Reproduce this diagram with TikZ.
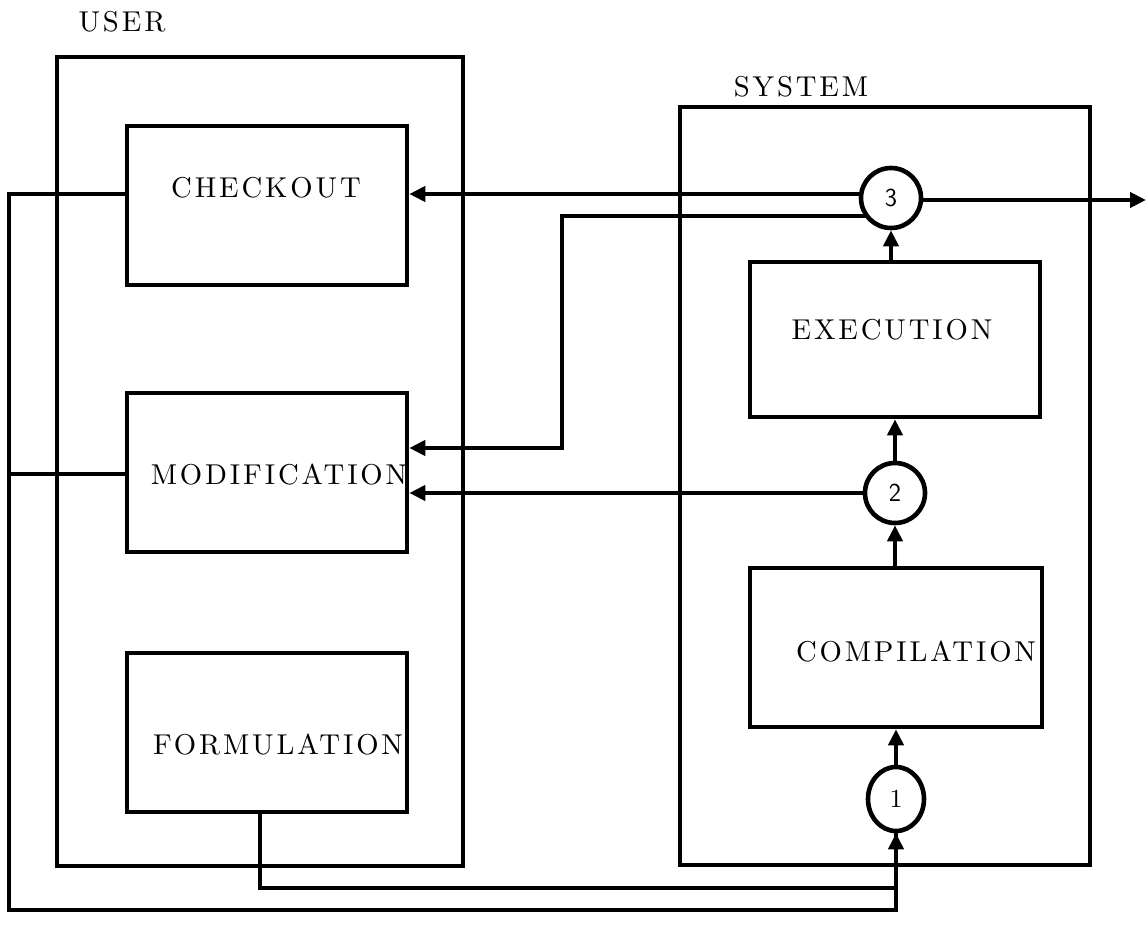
\documentclass[tikz,border=0pt]{standalone}
\usepackage{fontspec}
\usetikzlibrary{arrows.meta,shapes.geometric,calc}
\newfontfamily\labfam{lmroman10-regular}[Extension=.otf,LetterSpace=10]
\newcommand\labfont{\labfam\fontsize{28.7}{31}\selectfont}
\begin{document}
\begin{tikzpicture}[x=1pt,y=-1pt,
  box/.style={draw,line width=4.6pt,inner sep=0pt},
  lab/.style={font=\labfont,inner sep=0pt},
  conn/.style={line width=4.6pt},
  arr/.style={conn,-{Triangle[length=16pt,width=15pt]}},
  num/.style={circle,draw,fill=white,line width=4.6pt,minimum size=60pt,inner sep=0pt,font=\sffamily\fontsize{26}{28}\selectfont}]
\useasboundingbox (0,0) rectangle (1146,944);
% frames
\node[box,minimum width=406pt,minimum height=809pt] (user) at (260,461.5) {};
\node[box,minimum width=410pt,minimum height=758pt] (sys) at (885,486) {};
\node[lab] (usert) at (122,22) {USER};
\node[lab] (syst) at (801,87) {SYSTEM};
% user boxes
\node[box,minimum width=280pt,minimum height=159pt] (chk) at (267,205.5) {};
\node[box,minimum width=280pt,minimum height=159pt] (mod) at (267,472.5) {};
\node[box,minimum width=280pt,minimum height=159pt] (form) at (267,732.5) {};
\node[lab] (chkt) at (266,188) {CHECKOUT};
\node[lab] (modt) at (279,475) {MODIFICATION};
\node[lab] (formt) at (278,745) {FORMULATION};
% system boxes
\node[box,minimum width=290pt,minimum height=155pt] (exe) at (895,339.5) {};
\node[box,minimum width=292pt,minimum height=159pt] (comp) at (896,647.5) {};
\node[lab] (exet) at (892,330) {EXECUTION};
\node[lab] (compt) at (916,652) {COMPILATION};
% circle positions
\coordinate (p3) at (891,198);
\coordinate (p2) at (895,493);
\coordinate (p1) at (896,799);
\coordinate (k1) at (562,216);
\coordinate (k2) at (562,448);
\coordinate (out) at (1146,200);
\coordinate (l1) at (9,194);
\coordinate (l2) at (9,910);
\coordinate (l3) at (9,474);
\coordinate (f1) at (260,888);
% connectors
\draw[arr] (p3 |- 0,194) -- (chk.east |- 0,194);
\draw[arr] (p3 |- k1) -- (k1) -- (k2) -- (mod.east |- k2);
\draw[arr] (p2) -- (mod.east |- p2);
\draw[arr] (p3 |- out) -- (out);
\draw[conn] (chk.west |- l1) -- (l1) -- (l2) -- (p1 |- l2) -- (p1);
\draw[conn] (mod.west |- l3) -- (l3);
\draw[conn] (form.south -| f1) -- (f1) -- (p1 |- f1);
% circles
\node[num] (c3) at (p3) {3};
\node[num] (c2) at (p2) {2};
\node[num,ellipse,minimum width=56pt,minimum height=64pt,font=\labfam\fontsize{26}{28}\selectfont] (c1) at (p1) {1};
\draw[arr] (c1.south |- l2) -- (c1.south);
\draw[arr] (c3.south |- exe.north) -- (c3.south);
\draw[arr] (c2.north) -- (c2.north |- exe.south);
\draw[arr] (c2.south |- comp.north) -- (c2.south);
\draw[arr] (c1.north) -- (c1.north |- comp.south);
\end{tikzpicture}
\end{document}
